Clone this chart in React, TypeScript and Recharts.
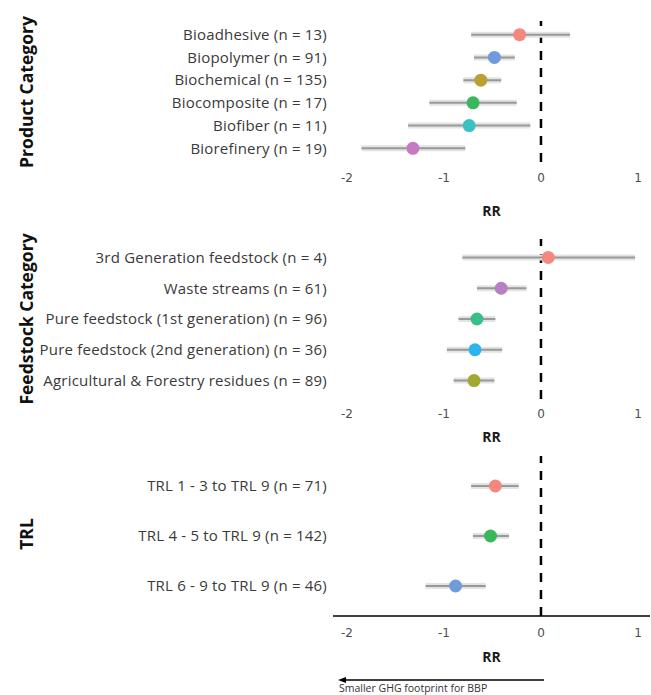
import { ScatterChart, Scatter, XAxis, YAxis, ErrorBar, ReferenceLine } from "recharts";

// Product category
const productNames = [
  "Bioadhesive (n = 13)",
  "Biopolymer (n = 91)",
  "Biochemical (n = 135)",
  "Biocomposite (n = 17)",
  "Biofiber (n = 11)",
  "Biorefinery (n = 19)",
];
const productRR = [-0.22, -0.48, -0.62, -0.7, -0.74, -1.32];
const productLow = [-0.72, -0.69, -0.8, -1.15, -1.37, -1.85];
const productHigh = [0.3, -0.27, -0.41, -0.25, -0.11, -0.78];
const productColors = ["#F5877E", "#6F9BDA", "#B9A032", "#38B85A", "#3CC1C3", "#C67BC1"];

// Feedstock category
const feedNames = [
  "3rd Generation feedstock (n = 4)",
  "Waste streams (n = 61)",
  "Pure feedstock (1st generation) (n = 96)",
  "Pure feedstock (2nd generation) (n = 36)",
  "Agricultural & Forestry residues (n = 89)",
];
const feedRR = [0.075, -0.41, -0.66, -0.68, -0.69];
const feedLow = [-0.81, -0.66, -0.85, -0.97, -0.9];
const feedHigh = [0.97, -0.15, -0.47, -0.4, -0.48];
const feedColors = ["#F5877E", "#B87FC3", "#3CBE8A", "#2DB4EE", "#A2A831"];

// TRL
const trlNames = [
  "TRL 1 - 3 to TRL 9 (n = 71)",
  "TRL 4 - 5 to TRL 9 (n = 142)",
  "TRL 6 - 9 to TRL 9 (n = 46)",
];
const trlRR = [-0.47, -0.52, -0.88];
const trlLow = [-0.72, -0.7, -1.19];
const trlHigh = [-0.23, -0.33, -0.57];
const trlColors = ["#F5877E", "#38B85A", "#6F9BDA"];

const xTicks = [-2, -1, 0, 1];
const labelFont = "'Open Sans', sans-serif";

function Panel(props: any) {
  const { names, rr, low, high, colors, top, height, marginTop, axisH, labelOffset, tickGap, axisLine } = props;
  const rows = names.map((name: string, i: number) => ({
    idx: i,
    rr: rr[i],
    err: [rr[i] - low[i], high[i] - rr[i]],
    color: colors[i],
  }));
  return (
    <div style={{ position: "absolute", left: 0, top }}>
      <ScatterChart width={651} height={height} margin={{ top: marginTop, right: 1, bottom: 0, left: 0 }}>
        <XAxis
          type="number"
          dataKey="rr"
          domain={[-2.144, 1.124]}
          ticks={xTicks}
          allowDataOverflow
          height={axisH}
          tickLine={false}
          tickSize={6}
          tickMargin={tickGap}
          axisLine={axisLine ? { stroke: "#000", strokeWidth: 1.5 } : false}
          tick={{ fill: "#4d4d4d", fontSize: 12, fontFamily: "'DejaVu Sans', sans-serif" }}
          label={{
            value: "RR",
            position: "insideBottom",
            offset: labelOffset,
            style: { fontWeight: 700, fontSize: 14, fill: "#1a1a1a", fontFamily: labelFont },
          }}
        />
        <YAxis
          type="number"
          dataKey="idx"
          reversed
          domain={[-0.6, names.length - 0.4]}
          ticks={names.map((_: string, i: number) => i)}
          tickFormatter={(v: number) => names[v]}
          width={333}
          axisLine={false}
          tickLine={false}
          tickSize={6}
          tickMargin={0}
          interval={0}
          tick={{ fill: "#3a3a3a", fontSize: 15, letterSpacing: 0.2, fontFamily: labelFont }}
        />
        <ReferenceLine x={0} stroke="#000" strokeWidth={2.5} strokeDasharray="9 8" />
        <Scatter
          data={rows}
          isAnimationActive={false}
          shape={(p: any) => <circle cx={p.cx} cy={p.cy} r={6.5} fill={p.payload.color} />}
        >
          <ErrorBar dataKey="err" direction="x" width={0} stroke="#e3e3e3" strokeWidth={6} />
          <ErrorBar dataKey="err" direction="x" width={0} stroke="#999" strokeWidth={2} />
        </Scatter>
      </ScatterChart>
    </div>
  );
}

export default function App() {
  return (
    <div style={{ position: "absolute", left: 0, top: 0, width: 651, height: 695, background: "#fff" }}>
      <Panel
        names={productNames}
        rr={productRR}
        low={productLow}
        high={productHigh}
        colors={productColors}
        top={0}
        height={222}
        marginTop={21}
        axisH={60}
        labelOffset={6}
        tickGap={5}
        axisLine={false}
      />
      <Panel
        names={feedNames}
        rr={feedRR}
        low={feedLow}
        high={feedHigh}
        colors={feedColors}
        top={222}
        height={227}
        marginTop={17}
        axisH={50}
        labelOffset={7}
        tickGap={4}
        axisLine={false}
      />
      <Panel
        names={trlNames}
        rr={trlRR}
        low={trlLow}
        high={trlHigh}
        colors={trlColors}
        top={449}
        height={217}
        marginTop={7}
        axisH={50}
        labelOffset={4}
        tickGap={6}
        axisLine={true}
      />
      <svg width={651} height={695} style={{ position: "absolute", left: 0, top: 0, pointerEvents: "none" }}>
        <g style={{ fontFamily: labelFont, fontWeight: 700, fontSize: 17.5, fill: "#111" }}>
          <text transform="translate(26,92) rotate(-90)" textAnchor="middle" dominantBaseline="central">
            Product Category
          </text>
          <text transform="translate(26,319) rotate(-90)" textAnchor="middle" dominantBaseline="central">
            Feedstock Category
          </text>
          <text transform="translate(26,534) rotate(-90)" textAnchor="middle" dominantBaseline="central">
            TRL
          </text>
        </g>
        <line x1={544} y1={680} x2={344} y2={680} stroke="#000" strokeWidth={1.3} />
        <polygon points="338,680 346,677 346,683" fill="#000" />
        <text x={339} y={691.5} style={{ fontFamily: labelFont, fontSize: 10.5, fill: "#333" }}>
          Smaller GHG footprint for BBP
        </text>
      </svg>
    </div>
  );
}
